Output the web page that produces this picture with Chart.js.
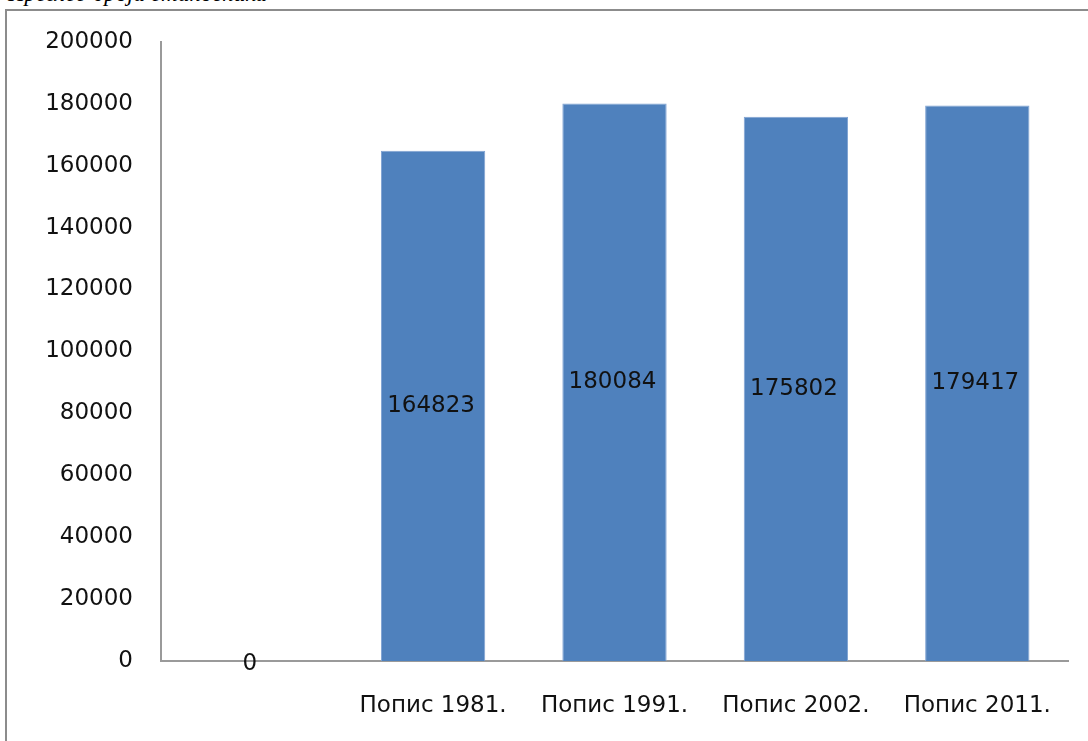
<!DOCTYPE html>
<html>
<head>
<meta charset="utf-8">
<script src="https://cdn.jsdelivr.net/npm/chart.js@4.4.0/dist/chart.umd.min.js"></script>
<style>
  html, body { margin: 0; padding: 0; background: #fff; overflow: hidden; }
  #title { position: absolute; left: 8px; top: -19px; font: italic 23px "Liberation Serif", serif; color: #000; white-space: nowrap; }
  #frame { position: absolute; left: 5px; top: 9px; width: 1200px; height: 800px; border: 2px solid #8c8c8c; }
  #wrap { position: absolute; left: 0; top: 0; width: 1088px; height: 741px; }
</style>
</head>
<body>
<div id="title">Преглед броја становника</div>
<div id="frame"></div>
<div id="wrap"><canvas id="popChart" width="1088" height="741"></canvas></div>
<script>
// подаци
const categories = ['', 'Попис 1981.', 'Попис 1991.', 'Попис 2002.', 'Попис 2011.'];
const population = [0, 164823, 180084, 175802, 179417];
const yMax = 200000;
const yStep = 20000;

// натписи вредности у средини стубаца
const valueLabels = {
  id: 'valueLabels',
  afterDatasetsDraw(chart) {
    const ctx = chart.ctx;
    const meta = chart.getDatasetMeta(0);
    ctx.save();
    ctx.font = '23px "DejaVu Sans", sans-serif';
    ctx.fillStyle = '#111';
    ctx.textAlign = 'center';
    ctx.textBaseline = 'middle';
    meta.data.forEach((bar, i) => {
      const v = population[i];
      const mid = (bar.y + bar.base) / 2;
      ctx.fillText(String(v), bar.x - 2, v === 0 ? bar.base + 3 : mid);
    });
    ctx.restore();
  }
};

new Chart(document.getElementById('popChart'), {
  type: 'bar',
  data: {
    labels: categories,
    datasets: [{
      data: population,
      backgroundColor: '#4f81bd',
      borderColor: '#7fa2d2',
      borderWidth: 1,
      barPercentage: 1,
      categoryPercentage: 0.575
    }]
  },
  options: {
    responsive: false,
    animation: false,
    devicePixelRatio: 1,
    layout: { padding: { left: 0, top: 41, right: 20, bottom: 0 } },
    plugins: { legend: { display: false }, tooltip: { enabled: false } },
    scales: {
      x: {
        grid: { display: false, drawTicks: false },
        border: { display: true, color: '#9a9a9a', width: 2 },
        ticks: { color: '#111', padding: 31, maxRotation: 0, font: { family: 'DejaVu Sans', size: 23 } },
        afterFit: s => { s.height = 80; }
      },
      y: {
        min: 0,
        max: yMax,
        grid: { display: false, drawTicks: false },
        border: { display: true, color: '#9a9a9a', width: 2 },
        ticks: {
          stepSize: yStep, color: '#111', padding: 28,
          font: { family: 'DejaVu Sans', size: 23 },
          callback: v => String(v)
        },
        afterFit: s => { s.width = 161; }
      }
    }
  },
  plugins: [valueLabels]
});
</script>
</body>
</html>
